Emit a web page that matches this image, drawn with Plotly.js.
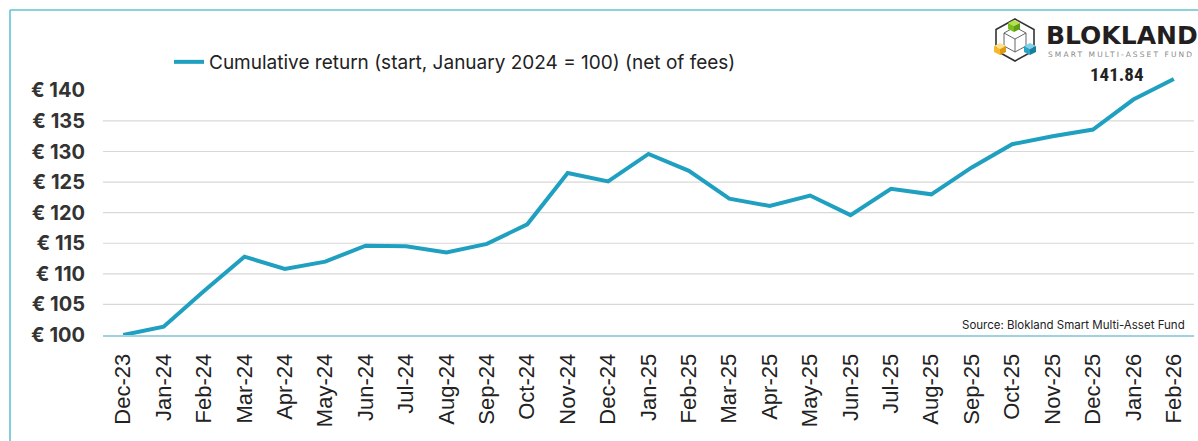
<!DOCTYPE html>
<html>
<head>
<meta charset="utf-8">
<script src="https://cdn.plot.ly/plotly-3.0.1.min.js"></script>
<style>
  html, body { margin: 0; padding: 0; background: #ffffff; }
  #chart { width: 1198px; height: 441px; }
</style>
</head>
<body>
<div id="chart"></div>
<script>
// ---- data ----
const months = ["Dec-23","Jan-24","Feb-24","Mar-24","Apr-24","May-24","Jun-24","Jul-24","Aug-24","Sep-24","Oct-24","Nov-24","Dec-24","Jan-25","Feb-25","Mar-25","Apr-25","May-25","Jun-25","Jul-25","Aug-25","Sep-25","Oct-25","Nov-25","Dec-25","Jan-26","Feb-26"];
const cumulative = [100, 101.35, 107.2, 112.8, 110.8, 112.0, 114.6, 114.5, 113.5, 114.9, 118.1, 126.5, 125.1, 129.6, 126.85, 122.3, 121.1, 122.8, 119.6, 123.9, 123.0, 127.4, 131.2, 132.5, 133.6, 138.5, 141.84];
const seriesName = "Cumulative return (start, January 2024 = 100) (net of fees)";
const yTickVals = [100, 105, 110, 115, 120, 125, 130, 135, 140];
const yTickText = ["€ 100", "€ 105", "€ 110", "€ 115", "€ 120", "€ 125", "€ 130", "€ 135", "€ 140"];
const gridVals = [105, 110, 115, 120, 125, 130, 135];
const lastLabel = "141.84";
const sourceText = "Source: Blokland Smart Multi-Asset Fund";
const brandName = "BLOKLAND";
const brandSub = "SMART MULTI-ASSET FUND";

// ---- layout geometry (pixels) ----
const W = 1198, H = 441;
const M = {l: 103, r: 4, t: 72, b: 106};
const plotW = W - M.l - M.r, plotH = H - M.t - M.b;
const px = x => (x - M.l) / plotW;
const py = y => (H - M.b - y) / plotH;

const teal = "#20a0c0";
const frame = "#62c3cf";

const logoSvg = `<svg xmlns="http://www.w3.org/2000/svg" width="46" height="46" viewBox="0 0 46 46">
<polygon points="23,2 42,12.5 42,33.5 23,44 4,33.5 4,12.5" fill="none" stroke="#333" stroke-width="1.6"/>
<polygon points="23,10 34,16 34,29 23,35 12,29 12,16" fill="none" stroke="#555" stroke-width="0.9"/>
<line x1="23" y1="22" x2="23" y2="35" stroke="#555" stroke-width="0.9"/>
<line x1="12" y1="16" x2="23" y2="22" stroke="#555" stroke-width="0.9"/>
<line x1="34" y1="16" x2="23" y2="22" stroke="#555" stroke-width="0.9"/>
<g><polygon points="22,3 28,6 22,9 16,6" fill="#b5e04a"/><polygon points="16,6 22,9 22,15 16,12" fill="#7cbd1e"/><polygon points="22,9 28,6 28,12 22,15" fill="#5e9e12"/></g>
<g><polygon points="8,26 14,29 8,32 2,29" fill="#ffe08a"/><polygon points="2,29 8,32 8,38 2,35" fill="#f6b92c"/><polygon points="8,32 14,29 14,35 8,38" fill="#e09a10"/></g>
<g><polygon points="38,26 44,29 38,32 32,29" fill="#7fd0e6"/><polygon points="32,29 38,32 38,38 32,35" fill="#2aa3c6"/><polygon points="38,32 44,29 44,35 38,38" fill="#1a7f9e"/></g>
</svg>`;
const logoUri = "data:image/svg+xml;base64," + btoa(logoSvg);

const trace = {
  type: "scatter",
  mode: "lines",
  x: months,
  y: cumulative,
  name: seriesName,
  line: {color: teal, width: 4},
  hoverinfo: "x+y"
};

const shapes = gridVals.map(v => ({
  type: "line", xref: "paper", yref: "y", x0: 0, x1: 1, y0: v, y1: v,
  line: {color: "#d8d8d8", width: 1.2}, layer: "below"
}));
// frame lines (top and left)
shapes.push({type: "line", xref: "paper", yref: "paper", x0: px(10), x1: px(W + 5), y0: py(10), y1: py(10), line: {color: frame, width: 1.6}});
shapes.push({type: "line", xref: "paper", yref: "paper", x0: px(10), x1: px(10), y0: py(10), y1: py(H + 5), line: {color: frame, width: 1.6}});

const layout = {
  width: W, height: H,
  margin: M,
  paper_bgcolor: "#ffffff",
  plot_bgcolor: "#ffffff",
  showlegend: true,
  legend: {
    x: px(169), y: py(62), xanchor: "left", yanchor: "middle",
    font: {family: "Inter, 'Open Sans', sans-serif", size: 19, color: "#222"},
    bgcolor: "rgba(0,0,0,0)"
  },
  xaxis: {
    type: "category",
    range: [-0.5, months.length - 0.5],
    showgrid: false, zeroline: false,
    showline: true, linecolor: "#9fd2de", linewidth: 2,
    ticks: "", tickangle: -90,
    ticklabelstandoff: 8,
    tickfont: {family: "'Liberation Sans', Arial, sans-serif", size: 22, color: "#222"}
  },
  yaxis: {
    range: [100, 143],
    tickmode: "array",
    tickvals: yTickVals,
    ticktext: yTickText,
    showgrid: false, zeroline: false, showline: false,
    ticks: "",
    ticklabelstandoff: 17,
    tickfont: {family: "Inter, 'Open Sans', sans-serif", size: 20, color: "#333", weight: 700}
  },
  shapes: shapes,
  images: [{
    source: logoUri, xref: "paper", yref: "paper",
    x: px(992), y: py(17), sizex: 46 / plotW, sizey: 46 / plotH,
    xanchor: "left", yanchor: "top", sizing: "stretch", layer: "above"
  }],
  annotations: [
    {
      x: months[months.length - 1], y: cumulative[cumulative.length - 1],
      xref: "x", yref: "y", text: lastLabel, showarrow: false,
      xanchor: "right", yanchor: "middle", xshift: -28, yshift: 5,
      font: {family: "'Liberation Sans Narrow', 'Roboto Condensed', 'DejaVu Sans Condensed', sans-serif", size: 19, color: "#222", weight: 700}
    },
    {
      x: px(1187), y: py(325), xref: "paper", yref: "paper",
      text: sourceText, showarrow: false, xanchor: "right", yanchor: "middle",
      font: {family: "Inter, 'Open Sans', sans-serif", size: 11.5, color: "#222"}
    },
    {
      x: px(1044), y: py(36), xref: "paper", yref: "paper",
      text: "<b>" + brandName + "</b>", showarrow: false, xanchor: "left", yanchor: "middle",
      font: {family: "'DejaVu Sans', sans-serif", size: 25, color: "#231f20"}
    },
    {
      x: px(1046), y: py(54), xref: "paper", yref: "paper",
      text: brandSub, showarrow: false, xanchor: "left", yanchor: "middle",
      font: {family: "'DejaVu Sans', sans-serif", size: 7.5, color: "#8a8a8a"}
    }
  ]
};

Plotly.newPlot("chart", [trace], layout, {displayModeBar: false, staticPlot: true}).then(gd => {
  // spaced lettering for the small brand subtitle, kept left-aligned
  gd.querySelectorAll(".annotation-text").forEach(t => {
    if (t.textContent === brandSub) {
      const bb = t.getBBox();
      t.style.letterSpacing = "2.1px";
      t.setAttribute("text-anchor", "start");
      t.setAttribute("x", bb.x);
    }
  });
});
</script>
</body>
</html>
